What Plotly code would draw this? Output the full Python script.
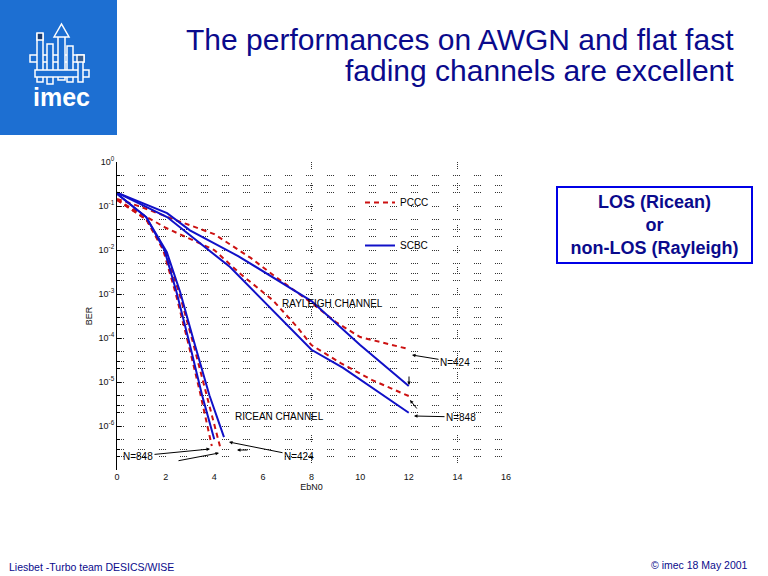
import plotly.graph_objects as go

# ---------------- data (Eb/N0 in dB, BER) ----------------
ray_scbc_424_x = [0, 2.06, 3, 5, 8, 10, 12]
ray_scbc_424_y = [2.0e-1, 6.9e-2, 2.8e-2, 7.2e-3, 6.9e-4, 6.9e-5, 8.1e-6]

ray_pccc_424_x = [0, 1, 2.5, 4, 5.5, 6.5, 8, 9, 10, 11, 12]
ray_pccc_424_y = [1.45e-1, 9.5e-2, 4.6e-2, 2.3e-2, 6.6e-3, 2.5e-3, 6.3e-4, 2.3e-4, 1.05e-4, 7.8e-5, 5.6e-5]

ray_scbc_848_x = [0, 2.06, 4.65, 7.1, 8, 9.3, 12]
ray_scbc_848_y = [2.0e-1, 5.6e-2, 4.1e-3, 1.8e-4, 5.4e-5, 2.1e-5, 2.0e-6]

ray_pccc_848_x = [0, 2, 4, 5.1, 6.4, 7.4, 8, 9.2, 10.5, 12]
ray_pccc_848_y = [1.38e-1, 3.2e-2, 1.0e-2, 2.8e-3, 7.3e-4, 1.8e-4, 6.9e-5, 2.7e-5, 1.1e-5, 4.8e-6]

ric_pccc_848_x = [0, 1.2, 1.9, 2.4, 2.9, 3.4, 3.9]
ric_pccc_848_y = [1.38e-1, 5.0e-2, 1.0e-2, 1.1e-3, 8.9e-5, 6.3e-6, 3.5e-7]

ric_scbc_848_x = [0, 1.2, 1.95, 2.45, 2.95, 3.5, 4.0]
ric_scbc_848_y = [1.9e-1, 5.6e-2, 1.0e-2, 1.1e-3, 8.9e-5, 5.0e-6, 5.0e-7]

ric_pccc_424_x = [0, 1.2, 2.0, 2.55, 3.1, 3.7, 4.25]
ric_pccc_424_y = [1.38e-1, 5.0e-2, 8.9e-3, 1.1e-3, 8.9e-5, 5.0e-6, 3.2e-7]

ric_scbc_424_x = [0, 1.2, 2.05, 2.6, 3.15, 3.8, 4.4]
ric_scbc_424_y = [1.9e-1, 5.6e-2, 8.9e-3, 1.1e-3, 8.9e-5, 5.0e-6, 5.6e-7]

x_ticks = [0, 2, 4, 6, 8, 10, 12, 14, 16]
y_ticks = [1e0, 1e-1, 1e-2, 1e-3, 1e-4, 1e-5, 1e-6]
y_ticktext = ["10<sup>0</sup>", "10<sup>-1</sup>", "10<sup>-2</sup>", "10<sup>-3</sup>",
              "10<sup>-4</sup>", "10<sup>-5</sup>", "10<sup>-6</sup>"]
legend_names = ["PCCC", "SCBC"]

title_lines = ["The performances on AWGN and flat fast", "fading channels are excellent"]
box_text = "LOS (Ricean)<br>or<br>non-LOS (Rayleigh)"
footer_left = "Liesbet -Turbo team DESICS/WISE"
footer_right = "© imec 18 May 2001"

# ---------------- layout geometry ----------------
W, H = 768, 576
L, R, T, B = 117, 506, 162, 470
PW, PH = R - L, B - T


def px(x):
    return (x - L) / PW


def py(y):
    return (B - y) / PH


RED = "#cc1111"
BLUE = "#1010c8"
NAVY = "#0a0a8c"
FONT = "Liberation Sans, Arial, sans-serif"
GRIDDASH = "1px,1px,1px,1px,1px,1px,1px,14px"

fig = go.Figure()

red_sets = [(ray_pccc_424_x, ray_pccc_424_y), (ray_pccc_848_x, ray_pccc_848_y),
            (ric_pccc_848_x, ric_pccc_848_y), (ric_pccc_424_x, ric_pccc_424_y)]
blue_sets = [(ray_scbc_424_x, ray_scbc_424_y), (ray_scbc_848_x, ray_scbc_848_y),
             (ric_scbc_848_x, ric_scbc_848_y), (ric_scbc_424_x, ric_scbc_424_y)]

for i, (xs, ys) in enumerate(red_sets):
    fig.add_trace(go.Scatter(x=xs, y=ys, mode="lines", name=legend_names[0],
                             legendgroup="pccc", showlegend=(i == 0),
                             line=dict(color=RED, width=2, dash="5px,4px")))
for i, (xs, ys) in enumerate(blue_sets):
    fig.add_trace(go.Scatter(x=xs, y=ys, mode="lines", name=legend_names[1],
                             legendgroup="scbc", showlegend=(i == 0),
                             line=dict(color=BLUE, width=2)))

minor_y = [m * 10.0 ** d for d in range(-7, 0) for m in (2, 3, 5)]

fig.update_xaxes(range=[0, 16], tickmode="array", tickvals=x_ticks,
                 ticktext=[str(v) for v in x_ticks], showgrid=False, zeroline=False,
                 showline=False, ticks="", tickfont=dict(size=9, family=FONT, color="#111"),
                 title=dict(text="EbN0", font=dict(size=9, family=FONT, color="#111"), standoff=2),
                 minor=dict(tickmode="array", tickvals=[8, 14], showgrid=True,
                            gridcolor="#333", gridwidth=1, griddash=GRIDDASH, ticks=""))
fig.update_yaxes(type="log", range=[-7, 0], tickmode="array", tickvals=y_ticks,
                 ticktext=y_ticktext, showgrid=True, gridcolor="#333", gridwidth=1,
                 griddash=GRIDDASH, zeroline=False, showline=True, linecolor="black",
                 linewidth=1, ticks="inside", ticklen=4, tickcolor="black",
                 tickfont=dict(size=9, family=FONT, color="#111"),
                 title=dict(text="BER", font=dict(size=9, family=FONT, color="#111"), standoff=4),
                 minor=dict(tickmode="array", tickvals=minor_y, showgrid=True,
                            gridcolor="#333", gridwidth=1, griddash=GRIDDASH,
                            ticks="inside", ticklen=3, tickcolor="black"))

annotations = []


def E(xp):
    return (xp - L) / 24.3125


def LG(yp):
    return -(yp - T) / 44.0


def arrow_ann(text, head, tail):
    annotations.append(dict(x=E(head[0]), y=LG(head[1]), xref="x", yref="y",
                            ax=tail[0] - head[0], ay=tail[1] - head[1],
                            text=text, showarrow=True, arrowhead=2, arrowsize=0.7,
                            arrowwidth=1, arrowcolor="black",
                            font=dict(size=10, family=FONT, color="black")))


arrow_ann("N=424", (412, 355), (455, 362))
arrow_ann("", (409, 385), (409, 375))
arrow_ann("N=848", (414, 416), (461, 417))
arrow_ann("", (410, 400), (418, 410))
arrow_ann("N=848", (210, 449), (138, 456))
arrow_ann("", (219, 453), (177, 461))
arrow_ann("N=424", (229, 442), (299, 456))
arrow_ann("", (237, 450), (249, 450))

annotations.append(dict(x=px(385), y=py(303), xref="paper", yref="paper", text="RAYLEIGH CHANNEL",
                        showarrow=False, font=dict(size=10, family=FONT, color="black")))
annotations.append(dict(x=px(279), y=py(424), xref="paper", yref="paper", text="RICEAN CHANNEL",
                        showarrow=False, font=dict(size=10, family=FONT, color="black")))

# title
annotations.append(dict(x=px(736), y=py(39), xref="paper", yref="paper", text=title_lines[0],
                        xanchor="right", yanchor="middle", showarrow=False,
                        font=dict(size=30, family=FONT, color=NAVY)))
annotations.append(dict(x=px(736), y=py(70), xref="paper", yref="paper", text=title_lines[1],
                        xanchor="right", yanchor="middle", showarrow=False,
                        font=dict(size=30, family=FONT, color=NAVY)))
# LOS box
annotations.append(dict(x=px(654.5), y=py(225), xref="paper", yref="paper",
                        text="<b>" + box_text.replace("<br>", "</b><br><b>") + "</b>",
                        xanchor="center", yanchor="middle", showarrow=False, align="center",
                        width=193, height=74, bordercolor="#0000e6", borderwidth=2, borderpad=0,
                        bgcolor="white", font=dict(size=18, family=FONT, color=NAVY)))
# footer
annotations.append(dict(x=px(7), y=py(567), xref="paper", yref="paper", text=footer_left,
                        xanchor="left", yanchor="middle", showarrow=False,
                        font=dict(size=10.5, family=FONT, color=NAVY)))
annotations.append(dict(x=px(750), y=py(565), xref="paper", yref="paper", text=footer_right,
                        xanchor="right", yanchor="middle", showarrow=False,
                        font=dict(size=10.5, family=FONT, color=NAVY)))
# logo text
annotations.append(dict(x=px(62), y=py(97), xref="paper", yref="paper", text="<b>imec</b>",
                        xanchor="center", yanchor="middle", showarrow=False,
                        font=dict(size=25, family=FONT, color="white")))

shapes = []


def rect(x0, y0, x1, y1, fill, line="white", lw=1.5):
    shapes.append(dict(type="rect", xref="paper", yref="paper", x0=px(x0), x1=px(x1),
                       y0=py(y1), y1=py(y0), fillcolor=fill,
                       line=dict(color=line, width=lw), layer="above"))


LOGO = "#1d6fd2"
rect(0, 0, 117, 135, LOGO, line=LOGO, lw=0)
rect(30, 55, 84, 62, LOGO)
rect(37, 34, 43, 82, LOGO)
rect(37, 33, 43, 40, "#1b3b6e")
rect(47, 44, 53, 84, LOGO)
rect(58, 36, 65, 80, LOGO)
shapes.append(dict(type="path", xref="paper", yref="paper",
                   path="M {} {} L {} {} L {} {} Z".format(px(54), py(37), px(61.5), py(24), px(69), py(37)),
                   fillcolor=LOGO, line=dict(color="white", width=1.5), layer="above"))
rect(67, 46, 73, 82, LOGO)
rect(35, 70, 89, 77, LOGO)
rect(78, 56, 83, 82, LOGO)
rect(77, 55, 84, 62, "#3a5f8f")

fig.update_layout(width=W, height=H, margin=dict(l=L, r=W - R, t=T, b=H - B, autoexpand=False),
                  paper_bgcolor="white", plot_bgcolor="white",
                  font=dict(family=FONT, size=10, color="black"),
                  showlegend=True,
                  legend=dict(x=px(360), y=py(188), xanchor="left", yanchor="top",
                              bgcolor="rgba(0,0,0,0)", borderwidth=0, tracegroupgap=24,
                              font=dict(size=10, family=FONT, color="black")),
                  annotations=annotations, shapes=shapes)

fig.write_html("out.html", config={"displayModeBar": False},
               post_script="document.body.style.margin='0px';document.body.style.padding='0px';")
